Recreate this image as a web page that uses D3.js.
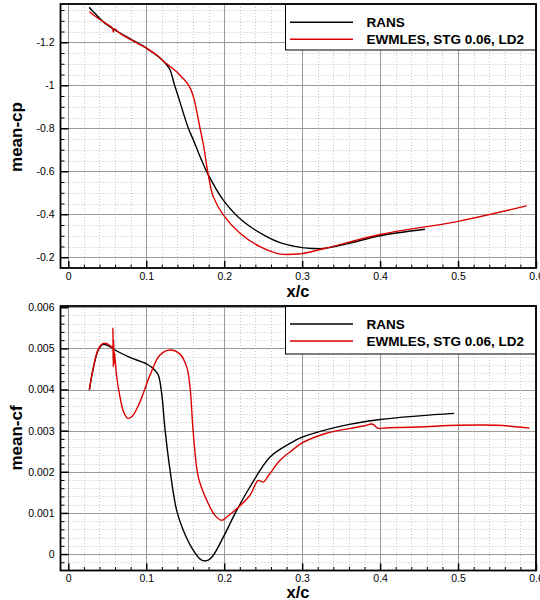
<!DOCTYPE html>
<html lang="en">

<head>
	<meta charset="UTF-8" />
	<title>mean-cp / mean-cf</title>
	<script src="https://cdn.jsdelivr.net/npm/d3@7"></script>
	<style>
		body { margin: 0; background: #fff; }
		svg { font-family: "Liberation Sans", Arial, Helvetica, sans-serif; }
	</style>
</head>

<body>
	<svg id="vis" width="540" height="600"></svg>
	<script>
		// Series names
		const seriesNames = ["RANS", "EWMLES, STG 0.06, LD2"];
		const seriesColors = ["#000000", "#dc0000"];

		// x axis ticks (shared)
		const xTicks = [0, 0.1, 0.2, 0.3, 0.4, 0.5, 0.6];
		const xTickLabels = ["0", "0.1", "0.2", "0.3", "0.4", "0.5", "0.6"];

		// top panel : mean-cp ticks
		const cpTicks = [-1.2, -1, -0.8, -0.6, -0.4, -0.2];
		const cpTickLabels = ["-1.2", "-1", "-0.8", "-0.6", "-0.4", "-0.2"];

		// bottom panel : mean-cf ticks
		const cfTicks = [0, 0.001, 0.002, 0.003, 0.004, 0.005, 0.006];
		const cfTickLabels = ["0", "0.001", "0.002", "0.003", "0.004", "0.005", "0.006"];

		// mean-cp, RANS  [x/c, cp]
		const cpRans = [
			[0.027, -1.363], [0.031, -1.345], [0.0345, -1.334], [0.0364, -1.326], [0.045, -1.295],
			[0.06, -1.257], [0.08, -1.215], [0.1006, -1.172], [0.115, -1.135], [0.1253, -1.099],
			[0.1306, -1.071], [0.136, -1.005], [0.1424, -0.932], [0.154, -0.8], [0.1604, -0.746],
			[0.17, -0.66], [0.1796, -0.583], [0.1988, -0.466], [0.2245, -0.366], [0.2545, -0.296],
			[0.2716, -0.268], [0.2887, -0.252], [0.3, -0.245], [0.313, -0.241], [0.327, -0.241],
			[0.357, -0.262], [0.4, -0.300], [0.4576, -0.330]
		];

		// mean-cp, EWMLES
		const cpLes = [
			[0.027, -1.342], [0.035, -1.32], [0.0428, -1.30], [0.05, -1.283], [0.0565, -1.266],
			[0.0578, -1.248], [0.0592, -1.262], [0.065, -1.245], [0.08, -1.212], [0.1006, -1.172],
			[0.115, -1.136], [0.1253, -1.102], [0.139, -1.063], [0.145, -1.04], [0.152, -1.012],
			[0.157, -0.982], [0.161, -0.94], [0.165, -0.875], [0.169, -0.8], [0.173, -0.73],
			[0.1796, -0.583], [0.186, -0.482], [0.1988, -0.397], [0.2203, -0.312], [0.2459, -0.249],
			[0.2674, -0.218], [0.28, -0.213], [0.295, -0.215], [0.3, -0.217], [0.3357, -0.247],
			[0.4, -0.306], [0.4983, -0.366], [0.5795, -0.432], [0.588, -0.44]
		];

		// mean-cf, RANS
		const cfRans = [
			[0.027, 0.00399], [0.032, 0.00451], [0.0385, 0.00496], [0.0449, 0.0051], [0.0535, 0.00504],
			[0.06, 0.00496], [0.079, 0.00478], [0.1006, 0.00462], [0.1112, 0.00447], [0.1155, 0.00435],
			[0.1198, 0.0039], [0.124, 0.00305], [0.1305, 0.00204], [0.139, 0.00106], [0.1475, 0.00058],
			[0.1604, 0.00009], [0.1711, -0.00015], [0.1796, -0.00015], [0.186, -0.00003], [0.1988, 0.00041],
			[0.216, 0.00106], [0.233, 0.00163], [0.2588, 0.00236], [0.2844, 0.00269], [0.3, 0.00284],
			[0.35, 0.00311], [0.4, 0.00327], [0.45, 0.00336], [0.495, 0.00342]
		];

		// mean-cf, EWMLES
		const cfLes = [
			[0.027, 0.00399], [0.032, 0.00452], [0.0385, 0.00498], [0.0449, 0.00512], [0.05, 0.00511],
			[0.054, 0.00506], [0.0565, 0.00502], [0.0572, 0.00549], [0.0577, 0.00455], [0.0582, 0.0052],
			[0.0587, 0.00462], [0.0592, 0.0049], [0.0621, 0.00431], [0.0663, 0.00382], [0.0705, 0.00348],
			[0.0762, 0.0033], [0.082, 0.00335], [0.092, 0.0037], [0.1048, 0.00435], [0.1176, 0.00484],
			[0.1305, 0.00496], [0.1433, 0.00486], [0.1519, 0.00455], [0.1561, 0.00407], [0.1604, 0.00293],
			[0.1668, 0.00187], [0.1775, 0.00131], [0.1882, 0.00094], [0.1968, 0.00082], [0.2032, 0.0009],
			[0.216, 0.0011], [0.2331, 0.00143], [0.2437, 0.00179], [0.2502, 0.00175], [0.2588, 0.00196],
			[0.2716, 0.00228], [0.2844, 0.00248], [0.3, 0.0027], [0.33, 0.00293], [0.36, 0.00305],
			[0.38, 0.00312], [0.39, 0.00316], [0.397, 0.00306], [0.41, 0.00307], [0.45, 0.00309],
			[0.5, 0.00313], [0.55, 0.00313], [0.592, 0.00306]
		];

		let svg = d3.select("#vis");

		// Echelle X commune aux deux graphes
		let left = 60.5, right = 536;
		let scaleX = d3.scaleLinear().domain([-0.01, 0.6]).range([left, right]);

		function drawPanel(p) {
			let top = p.top, bottom = p.bottom;
			let scaleY = d3.scaleLinear().domain(p.yDomain).range(p.yRange);
			let g = svg.append("g");

			// clip
			g.append("clipPath").attr("id", p.id + "-clip")
				.append("rect")
				.attr("x", left).attr("y", top)
				.attr("width", right - left).attr("height", bottom - top);

			// minor grid (dotted)
			let xMinor = d3.range(0, 0.601, 0.02);
			let yMinor = d3.range(p.minorStart, p.yMaxValue + p.minorStep / 2, p.minorStep);
			let gMinor = g.append("g")
				.attr("stroke", "#c4c4c4")
				.attr("stroke-width", 1)
				.attr("stroke-dasharray", "1,2");
			gMinor.selectAll(".vx").data(xMinor).join("line")
				.attr("x1", d => Math.round(scaleX(d)) + 0.5).attr("x2", d => Math.round(scaleX(d)) + 0.5)
				.attr("y1", top).attr("y2", bottom);
			gMinor.selectAll(".hy").data(yMinor).join("line")
				.attr("x1", left).attr("x2", right)
				.attr("y1", d => Math.round(scaleY(d)) + 0.5).attr("y2", d => Math.round(scaleY(d)) + 0.5);

			// major grid
			let gMajor = g.append("g")
				.attr("stroke", "#9a9a9a")
				.attr("stroke-width", 1);
			gMajor.selectAll(".vx").data(xTicks).join("line")
				.attr("x1", d => Math.round(scaleX(d)) + 0.5).attr("x2", d => Math.round(scaleX(d)) + 0.5)
				.attr("y1", top).attr("y2", bottom);
			gMajor.selectAll(".hy").data(p.ticks).join("line")
				.attr("x1", left).attr("x2", right)
				.attr("y1", d => Math.round(scaleY(d)) + 0.5).attr("y2", d => Math.round(scaleY(d)) + 0.5);

			// courbes
			let line = d3.line()
				.x(d => scaleX(d[0]))
				.y(d => scaleY(d[1]))
				.curve(d3.curveCatmullRom.alpha(0.5));
			let gLines = g.append("g").attr("clip-path", "url(#" + p.id + "-clip)");
			p.series.forEach((s, i) => {
				gLines.append("path")
					.attr("d", line(s))
					.attr("fill", "none")
					.attr("stroke", seriesColors[i])
					.attr("stroke-width", 1.4)
					.attr("stroke-linejoin", "round");
			});

			// Axe X (ticks vers l'interieur)
			let xAxis = d3.axisBottom(scaleX)
				.tickValues(xTicks)
				.tickFormat((d, i) => xTickLabels[i])
				.tickSizeInner(-7).tickSizeOuter(0)
				.tickPadding(p.xPad);
			let gx = g.append("g").attr("transform", "translate(0," + bottom + ")").call(xAxis);
			gx.select(".domain").remove();
			gx.selectAll("text").attr("font-size", 10.5).attr("fill", "#000").attr("font-family", null);
			gx.selectAll("line").attr("stroke-width", 1.5);

			let xMinorAxis = d3.axisBottom(scaleX)
				.tickValues(xMinor.filter(d => xTicks.every(t => Math.abs(t - d) > 1e-6)))
				.tickFormat("").tickSizeInner(-3.5).tickSizeOuter(0);
			let gxm = g.append("g").attr("transform", "translate(0," + bottom + ")").call(xMinorAxis);
			gxm.select(".domain").remove();

			// Axe Y
			let yAxis = d3.axisLeft(scaleY)
				.tickValues(p.ticks)
				.tickFormat((d, i) => p.tickLabels[i])
				.tickSizeInner(-8).tickSizeOuter(0)
				.tickPadding(6);
			let gy = g.append("g").attr("transform", "translate(" + left + ",0)").call(yAxis);
			gy.select(".domain").remove();
			gy.selectAll("text").attr("font-size", 10.5).attr("fill", "#000").attr("font-family", null);
			gy.selectAll("line").attr("stroke-width", 1.5);

			let yMinorAxis = d3.axisLeft(scaleY)
				.tickValues(yMinor.filter(d => p.ticks.every(t => Math.abs(t - d) > p.minorStep / 10)))
				.tickFormat("").tickSizeInner(-4).tickSizeOuter(0);
			let gym = g.append("g").attr("transform", "translate(" + left + ",0)").call(yMinorAxis);
			gym.select(".domain").remove();

			// legende
			let lg = g.append("g");
			lg.append("rect")
				.attr("x", 285.5).attr("y", top)
				.attr("width", right - 285.5).attr("height", p.legendH)
				.attr("fill", "#fff").attr("stroke", "#000").attr("stroke-width", 1);
			seriesNames.forEach((name, i) => {
				let yy = top + p.legendY0 + i * 17;
				lg.append("line")
					.attr("x1", 290).attr("x2", 353)
					.attr("y1", yy).attr("y2", yy)
					.attr("stroke", seriesColors[i]).attr("stroke-width", 1.5);
				lg.append("text")
					.attr("x", 366.5).attr("y", yy + 4.8)
					.attr("font-size", 13.5).attr("font-weight", "bold")
					.text(name);
			});

			// cadre
			g.append("rect")
				.attr("x", left).attr("y", top)
				.attr("width", right - left).attr("height", bottom - top)
				.attr("fill", "none").attr("stroke", "#000").attr("stroke-width", 1.8);

			// titres des axes
			g.append("text")
				.attr("transform", "translate(16," + p.yTitleY + ") rotate(-90)")
				.attr("text-anchor", "middle").attr("dominant-baseline", "central")
				.attr("font-size", 17).attr("font-weight", "bold")
				.text(p.yTitle);
			g.append("text")
				.attr("x", 298).attr("y", p.xTitleY)
				.attr("text-anchor", "middle").attr("dominant-baseline", "central")
				.attr("font-size", 16.5).attr("font-weight", "bold")
				.text("x/c");
		}

		drawPanel({
			id: "cp", top: 4, bottom: 268,
			yDomain: [-1.378, -0.15], yRange: [4, 268],
			ticks: cpTicks, tickLabels: cpTickLabels,
			minorStart: -1.35, minorStep: 0.05, yMaxValue: -0.2,
			series: [cpRans, cpLes],
			xPad: 5, legendH: 46, legendY0: 18.3,
			yTitle: "mean-cp", yTitleY: 137, xTitleY: 290.5
		});

		drawPanel({
			id: "cf", top: 306, bottom: 570.5,
			yDomain: [-0.0004, 0.00603], yRange: [570.5, 306],
			ticks: cfTicks, tickLabels: cfTickLabels,
			minorStart: -0.0002, minorStep: 0.0002, yMaxValue: 0.006,
			series: [cfRans, cfLes],
			xPad: 4.5, legendH: 48, legendY0: 18,
			yTitle: "mean-cf", yTitleY: 438, xTitleY: 591.5
		});
	</script>
</body>

</html>
